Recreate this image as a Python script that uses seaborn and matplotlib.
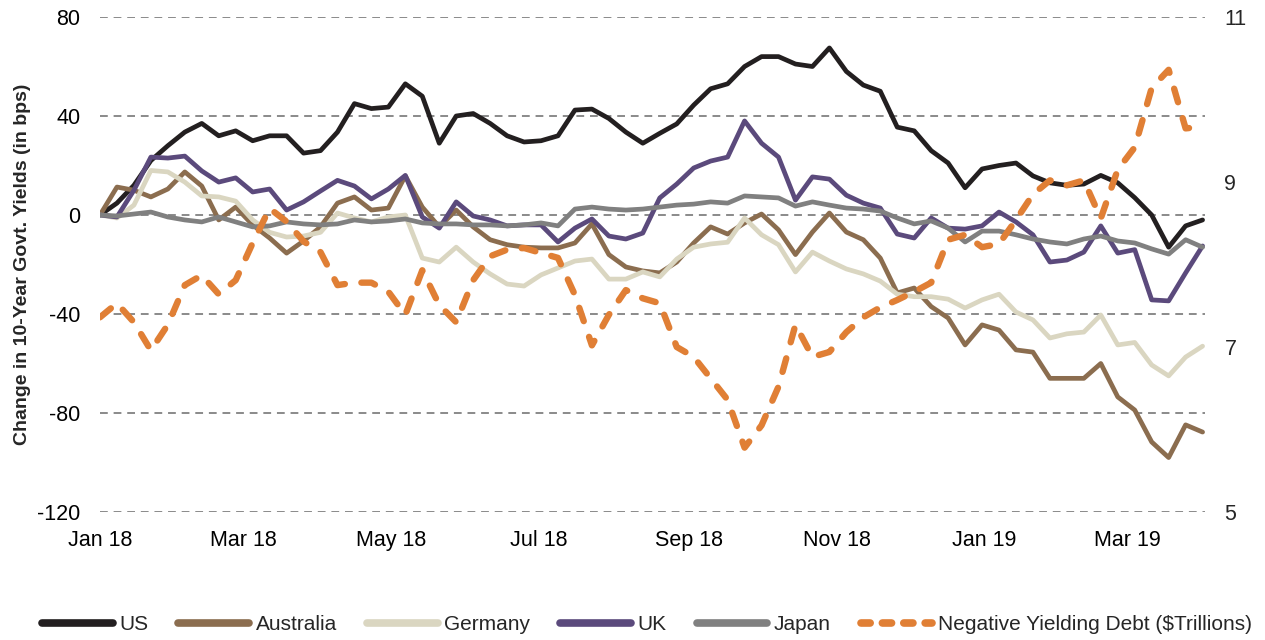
import numpy as np
import pandas as pd
import matplotlib
matplotlib.use("Agg")
import matplotlib.pyplot as plt
import matplotlib.dates as mdates
from matplotlib.lines import Line2D
import seaborn as sns

# weekly observations, Jan 2018 - Apr 2019
dates = pd.date_range("2018-01-01", periods=66, freq="7D")

us = [0, 4.8, 12, 22, 28, 33.5, 37, 32, 34, 30, 32, 32, 25, 26, 33.5, 45, 43, 43.6,
      53, 48, 29, 40, 41, 37, 32, 29.5, 30, 32, 42.4, 42.8, 39, 33.5, 29, 33, 36.8,
      44.4, 51, 53, 60, 64, 64, 61, 60, 67.5, 58, 52.5, 50, 35.5, 34, 26, 21, 11,
      18.6, 20, 21, 15.8, 13, 12, 12.5, 16, 13, 7, 0, -13, -4.4, -2]
australia = [0, 11.3, 10, 7.3, 10.5, 17.4, 11.7, -2, 3.2, -4, -9.3, -15.4, -10.5, -4.8,
             4.8, 7.3, 2, 2.8, 15.8, 3.2, -4.8, 2, -4.8, -10, -12, -13, -13.3, -13.3,
             -11.3, -3.6, -16, -21, -22.6, -23.4, -19, -11.3, -4.8, -7.7, -3.2, 0.4, -6,
             -16, -6.9, 0.8, -6.9, -10, -17.4, -31.5, -29.5, -37, -41.6, -52.5, -44.4,
             -46.5, -54.5, -55.4, -66, -66, -66, -60, -73.5, -78.8, -91.7, -98, -84.8, -87.7]
germany = [0, -1.2, 4, 18, 17.4, 13.3, 7.7, 7.3, 5.6, -2, -7, -8.9, -8.5, -7, 0.8, -1.2,
           -2.8, -0.8, 0, -17.4, -19, -13, -19, -23.8, -27.9, -28.7, -24.2, -21.4, -18.6,
           -17.8, -25.9, -25.9, -23, -25, -17.8, -13, -11.7, -11, -1.2, -8, -12, -23, -15,
           -18.6, -21.8, -23.8, -26.7, -32, -33, -33, -34, -37.6, -34.3, -32, -39.2, -42.4,
           -49.7, -48, -47.3, -40.4, -52.5, -51.5, -60.6, -65, -57.4, -53]
uk = [0, -0.8, 10, 23.4, 23, 23.8, 17.8, 13.3, 15, 9.3, 10.5, 2, 5.3, 9.7, 14, 11.7, 6.5,
      10.5, 16, -0.8, -5.3, 5.3, -0.4, -2, -4.4, -4, -4, -10.9, -5.3, -1.6, -8.5, -9.7,
      -7.3, 6.9, 12.5, 19, 21.8, 23.4, 38, 29, 23.4, 6, 15.4, 14.5, 8, 4.8, 2.8, -7.7,
      -9.3, -1.2, -5.3, -5.7, -4.4, 1.2, -2.8, -8, -19, -18.2, -15, -4.4, -15.4, -14,
      -34.3, -34.7, -23.4, -12.5]
japan = [0, -0.4, 0.4, 1.2, -0.8, -2, -2.8, -0.8, -2.8, -4.8, -4.4, -2.8, -3.6, -4, -3.6,
         -2, -2.8, -2.4, -1.6, -3.2, -3.6, -3.6, -4, -4, -4.4, -4, -3.2, -4.4, 2.4, 3.2,
         2.4, 2, 2.4, 3.2, 4, 4.4, 5.3, 4.8, 7.7, 7.3, 6.9, 3.6, 5.3, 4, 2.8, 2.4, 1.6,
         -1.2, -3.6, -2.4, -5.3, -10.9, -6.5, -6.5, -8, -9.7, -10.9, -11.7, -9.7, -8.5,
         -10.5, -11.3, -13.7, -15.8, -10, -13]
neg_debt = [7.36, 7.53, 7.30, 6.96, 7.27, 7.75, 7.87, 7.64, 7.81, 8.26, 8.68, 8.52, 8.28,
            8.15, 7.75, 7.78, 7.78, 7.67, 7.39, 7.93, 7.51, 7.30, 7.81, 8.10, 8.18, 8.20,
            8.14, 8.08, 7.63, 7.02, 7.39, 7.69, 7.59, 7.53, 7.00, 6.88, 6.62, 6.36, 5.78,
            6.05, 6.52, 7.27, 6.88, 6.94, 7.18, 7.36, 7.48, 7.57, 7.67, 7.78, 8.30, 8.36,
            8.21, 8.25, 8.54, 8.85, 9.02, 8.96, 9.02, 8.56, 9.15, 9.42, 10.14, 10.36, 9.65, 9.67]

countries = ["US", "Australia", "Germany", "UK", "Japan"]
colors = {"US": "#231f20", "Australia": "#8b6d4f", "Germany": "#dad6c1",
          "UK": "#5b4a7c", "Japan": "#808080"}
debt_color = "#e07f35"

df = pd.DataFrame({"date": dates, "US": us, "Australia": australia, "Germany": germany,
                   "UK": uk, "Japan": japan})
long = df.melt(id_vars="date", var_name="country", value_name="bps")
debt = pd.DataFrame({"date": dates, "debt": neg_debt})

sns.set_theme(style="white")
plt.rcParams["font.family"] = ["Liberation Sans", "DejaVu Sans"]
plt.rcParams["axes.unicode_minus"] = False

fig = plt.figure(figsize=(12.65, 6.4), dpi=100)
ax = fig.add_axes([100 / 1265, 1 - 512 / 640, 1105 / 1265, 495 / 640])

sns.lineplot(data=long, x="date", y="bps", hue="country", hue_order=countries,
             palette=colors, linewidth=3.4, ax=ax, legend=False,
             solid_capstyle="round", solid_joinstyle="round")
ax.set_ylim(-120, 80)
ax.set_yticks(np.arange(-120, 81, 40))
ax.yaxis.grid(True, color="#8a8a8a", linestyle=(0, (4, 3)), linewidth=1.4)
ax.set_axisbelow(True)
ax.set_xlim(pd.Timestamp("2018-01-01"), pd.Timestamp("2019-04-02"))
ax.xaxis.set_major_locator(mdates.MonthLocator(bymonth=(1, 3, 5, 7, 9, 11)))
ax.xaxis.set_major_formatter(mdates.DateFormatter("%b %y"))
ax.set_xlabel("")
ax.set_ylabel("Change in 10-Year Govt. Yields (in bps)", fontsize=14,
              fontweight="bold")
ax.yaxis.set_label_coords(-0.062, 0.5)
ax.tick_params(axis="both", length=0, labelsize=15.5, colors="black")
ax.tick_params(axis="y", pad=14)
ax.tick_params(axis="x", pad=13)
for s in ax.spines.values():
    s.set_visible(False)

ax2 = ax.twinx()
sns.lineplot(data=debt, x="date", y="debt", color=debt_color, linewidth=4.6,
             ax=ax2, legend=False)
ax2.lines[0].set_dashes((2.2, 2.6))
ax2.lines[0].set_dash_capstyle("round")
ax2.set_ylim(5, 11)
ax2.set_yticks([5, 7, 9, 11])
ax2.set_ylabel("")
ax2.tick_params(axis="y", length=0, labelsize=15.5, pad=14)
ax2.grid(False)
for s in ax2.spines.values():
    s.set_visible(False)

handles = [Line2D([], [], color=colors[c], linewidth=5.5, solid_capstyle="round")
           for c in countries]
handles.append(Line2D([], [], color=debt_color, linewidth=5.5, dashes=(1.2, 1.6),
                      dash_capstyle="round"))
labels = countries + ["Negative Yielding Debt ($Trillions)"]
fig.legend(handles, labels, loc="center", bbox_to_anchor=(647 / 1265, 1 - 625 / 640),
           ncol=6, frameon=False, fontsize=15, handlelength=3.4,
           columnspacing=1.45, handletextpad=0.3, borderpad=0.2)

fig.savefig("out.png", dpi=100)
